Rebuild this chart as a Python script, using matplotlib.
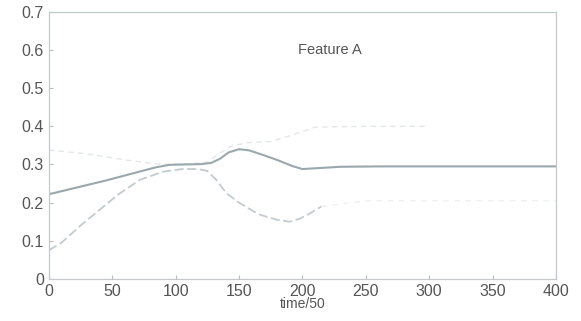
import numpy as np
import matplotlib
matplotlib.use("Agg")
import matplotlib.pyplot as plt

plt.rcParams["font.family"] = ["Liberation Sans", "DejaVu Sans"]

# main trajectory (solid)
t_main = [0, 20, 45, 70, 85, 95, 105, 120, 128, 135, 142, 150, 158, 168, 180, 192, 200, 210, 230, 260, 300, 350, 400]
y_main = [0.222, 0.238, 0.258, 0.280, 0.293, 0.299, 0.300, 0.301, 0.304, 0.315, 0.332, 0.340, 0.337, 0.326, 0.312, 0.296, 0.288, 0.290, 0.294, 0.295, 0.295, 0.295, 0.295]

# lower bound (dashed)
t_low = [0, 10, 25, 40, 55, 72, 90, 105, 118, 125, 132, 140, 150, 165, 180, 190, 198, 205, 215]
y_low = [0.075, 0.095, 0.140, 0.181, 0.222, 0.260, 0.281, 0.288, 0.288, 0.283, 0.260, 0.225, 0.200, 0.170, 0.155, 0.150, 0.158, 0.170, 0.190]
t_low_tail = [215, 250, 300, 350, 400]
y_low_tail = [0.190, 0.205, 0.205, 0.205, 0.205]

# upper bound (faint)
t_up = [0, 30, 60, 90, 110, 125, 135, 145, 160, 175, 190, 210, 250, 300]
y_up = [0.338, 0.328, 0.312, 0.300, 0.302, 0.306, 0.330, 0.350, 0.358, 0.360, 0.375, 0.398, 0.400, 0.400]

fig, ax = plt.subplots(figsize=(5.81, 3.21), dpi=100)
fig.subplots_adjust(left=0.084, right=0.957, top=0.963, bottom=0.131)

ax.plot(t_up, y_up, color="#e2e7e9", lw=1.0, ls=(0, (4, 3)))
ax.plot(t_low, y_low, color="#c3cbcf", lw=1.3, ls=(0, (5, 2)))
ax.plot(t_low_tail, y_low_tail, color="#eef1f2", lw=1.0, ls=(0, (4, 4)))
ax.plot(t_main, y_main, color="#9aa8ad", lw=1.5)

ax.text(222, 0.60, "Feature A", fontsize=10.5, color="#555555", ha="center", va="center")

ax.set_xlim(0, 400)
ax.set_ylim(0, 0.7)
ax.set_xticks(np.arange(0, 401, 50))
ax.set_yticks(np.arange(0, 0.71, 0.1))
ax.set_yticklabels(["0", "0.1", "0.2", "0.3", "0.4", "0.5", "0.6", "0.7"])
ax.tick_params(direction="in", length=3, colors="#bbbbbb", labelcolor="#555555", labelsize=11.5)
ax.set_xlabel("time/50", fontsize=10, color="#555555", labelpad=-1)
for s in ax.spines.values():
    s.set_color("#c4c8ca")
    s.set_linewidth(0.9)

fig.savefig("out.png", dpi=100)
